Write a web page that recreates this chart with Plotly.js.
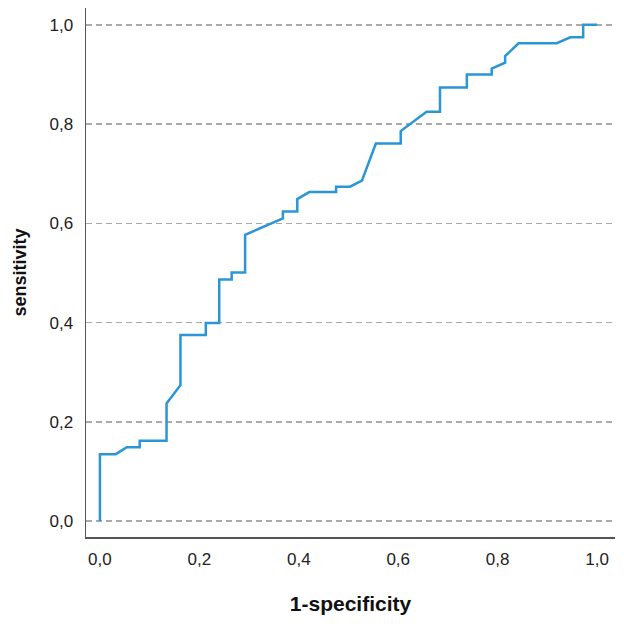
<!DOCTYPE html>
<html>
<head>
<meta charset="utf-8">
<script src="https://cdn.plot.ly/plotly-3.0.1.min.js"></script>
<style>
  html, body { margin: 0; padding: 0; background: #fff; }
  #roc { width: 624px; height: 624px; }
</style>
</head>
<body>
<div id="roc"></div>
<script>
// ROC curve points (1-specificity, sensitivity)
const fpr = [0, 0, 0.032, 0.054, 0.080, 0.080, 0.134, 0.134, 0.162, 0.162,
             0.213, 0.213, 0.240, 0.240, 0.265, 0.265, 0.292, 0.292, 0.368, 0.368,
             0.397, 0.397, 0.421, 0.475, 0.475, 0.503, 0.527, 0.555, 0.605, 0.605,
             0.657, 0.684, 0.684, 0.738, 0.738, 0.788, 0.788, 0.815, 0.815, 0.842,
             0.919, 0.946, 0.972, 0.972, 1.0];
const tpr = [0, 0.135, 0.135, 0.149, 0.149, 0.162, 0.162, 0.237, 0.274, 0.375,
             0.375, 0.399, 0.399, 0.487, 0.487, 0.501, 0.501, 0.577, 0.610, 0.624,
             0.624, 0.649, 0.663, 0.663, 0.674, 0.674, 0.686, 0.761, 0.761, 0.786,
             0.825, 0.825, 0.874, 0.874, 0.900, 0.900, 0.912, 0.924, 0.937, 0.963,
             0.963, 0.975, 0.975, 1.0, 1.0];

const tickVals = [0, 0.2, 0.4, 0.6, 0.8, 1.0];
const tickText = ['0,0', '0,2', '0,4', '0,6', '0,8', '1,0'];

const traces = [{
    x: fpr,
    y: tpr,
    mode: 'lines',
    line: {color: '#2a96d6', width: 2.5},
    hoverinfo: 'skip'
}];

const tickFont = {family: 'Liberation Sans, Arial, sans-serif', size: 17, color: '#222'};

const layout = {
    width: 624,
    height: 624,
    margin: {l: 86, r: 9, t: 8, b: 87},
    paper_bgcolor: '#fff',
    plot_bgcolor: '#fff',
    showlegend: false,
    xaxis: {
        range: [-0.028, 1.036],
        showgrid: false,
        zeroline: false,
        showline: true,
        linecolor: '#555',
        linewidth: 1.5,
        tickvals: tickVals,
        ticktext: tickText,
        ticks: 'outside',
        ticklen: 6,
        tickcolor: 'rgba(0,0,0,0)',
        tickfont: tickFont,
        title: {
            text: '1-specificity',
            font: {family: 'Liberation Sans, Arial, sans-serif', size: 21, color: '#111', weight: 'bold'},
            standoff: 28
        }
    },
    yaxis: {
        range: [-0.032, 1.034],
        showgrid: true,
        gridcolor: '#aaaaaa',
        gridwidth: 1.5,
        griddash: '6px,4px',
        zeroline: false,
        showline: true,
        linecolor: '#555',
        linewidth: 1.5,
        tickvals: tickVals,
        ticktext: tickText,
        ticks: 'outside',
        ticklen: 8,
        tickcolor: 'rgba(0,0,0,0)',
        tickfont: tickFont,
        title: {
            text: 'sensitivity',
            font: {family: 'Liberation Sans, Arial, sans-serif', size: 18, color: '#111', weight: 'bold'},
            standoff: 18
        }
    }
};

Plotly.newPlot('roc', traces, layout, {staticPlot: true, displayModeBar: false});
</script>
</body>
</html>
